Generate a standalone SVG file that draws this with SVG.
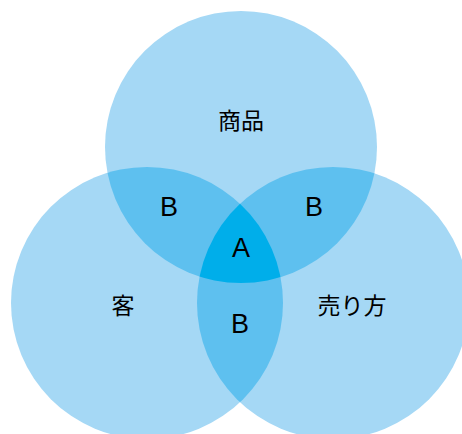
<svg xmlns="http://www.w3.org/2000/svg" width="462" height="434" viewBox="0 0 462 434">
<style>
.c1{fill:#a5d8f5}
.c2{fill:#5ec0ef}
.c3{fill:#00aeea}
.jp{font-family:"Noto Sans CJK JP","Noto Sans",sans-serif;font-size:23px;fill:#000;text-anchor:middle;dominant-baseline:central}
.lt{font-family:"Liberation Sans",Arial,sans-serif;font-size:27px;fill:#000;text-anchor:middle}
</style>
<defs>
<clipPath id="cpTop"><circle cx="241" cy="147" r="136"/></clipPath>
<clipPath id="cpLeft"><circle cx="147" cy="303" r="136"/></clipPath>
<clipPath id="cpRight"><circle cx="333" cy="303" r="136"/></clipPath>
<clipPath id="cpLR" clip-path="url(#cpLeft)"><circle cx="333" cy="303" r="136"/></clipPath>
</defs>
<rect width="462" height="434" fill="#fff"/>
<g id="top"><circle class="c1" cx="241" cy="147" r="136"/><text class="jp" x="241" y="119">商品</text></g>
<g id="left"><circle class="c1" cx="147" cy="303" r="136"/><text class="jp" x="123" y="304">客</text></g>
<g id="right"><circle class="c1" cx="333" cy="303" r="136"/><text class="jp" x="352" y="304">売り方</text></g>
<g id="overlapTL"><circle class="c2" cx="147" cy="303" r="136" clip-path="url(#cpTop)"/></g>
<g id="overlapTR"><circle class="c2" cx="333" cy="303" r="136" clip-path="url(#cpTop)"/></g>
<g id="overlapLR"><circle class="c2" cx="333" cy="303" r="136" clip-path="url(#cpLeft)"/></g>
<g id="center"><circle class="c3" cx="241" cy="147" r="136" clip-path="url(#cpLR)"/></g>
<g id="labels">
<text class="lt" x="169" y="216">B</text>
<text class="lt" x="314" y="216">B</text>
<text class="lt" x="240" y="333">B</text>
<text class="lt" x="241" y="257">A</text>
</g>
<g id="connectors"/>
</svg>
